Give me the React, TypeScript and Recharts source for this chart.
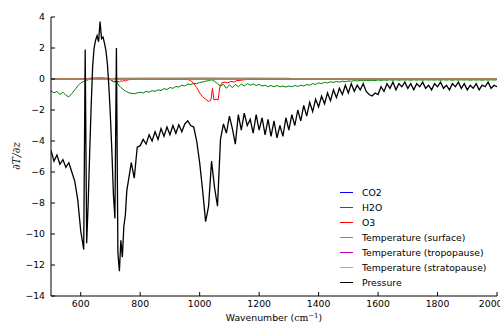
import { LineChart, Line, XAxis, YAxis, Legend } from 'recharts';

// shared wavenumber grid (cm^-1) for pressure and H2O, finer through the 600-760 band
const wavenumber = [
  500, 510, 520, 530, 540, 550, 560, 570, 580, 590,
  595, 600, 605, 610, 615, 620, 625, 630, 635, 640,
  645, 650, 655, 660, 665, 670, 675, 680, 685, 690,
  695, 700, 705, 710, 715, 720, 725, 730, 735, 740,
  745, 750, 755, 760,
  770, 780, 790,
  800, 810, 820, 830, 840, 850, 860, 870, 880, 890,
  900, 910, 920, 930, 940, 950, 960, 970, 980, 990,
  1000, 1010, 1020, 1030, 1040, 1050, 1060, 1070, 1080, 1090,
  1100, 1110, 1120, 1130, 1140, 1150, 1160, 1170, 1180, 1190,
  1200, 1210, 1220, 1230, 1240, 1250, 1260, 1270, 1280, 1290,
  1300, 1310, 1320, 1330, 1340, 1350, 1360, 1370, 1380, 1390,
  1400, 1410, 1420, 1430, 1440, 1450, 1460, 1470, 1480, 1490,
  1500, 1510, 1520, 1530, 1540, 1550, 1560, 1570, 1580, 1590,
  1600, 1610, 1620, 1630, 1640, 1650, 1660, 1670, 1680, 1690,
  1700, 1710, 1720, 1730, 1740, 1750, 1760, 1770, 1780, 1790,
  1800, 1810, 1820, 1830, 1840, 1850, 1860, 1870, 1880, 1890,
  1900, 1910, 1920, 1930, 1940, 1950, 1960, 1970, 1980, 1990,
  2000,
];

const pressure = [
  -4.6, -5.3, -4.9, -5.5, -5.2, -5.7, -5.4, -6.0, -6.6, -7.8,
  -8.8, -9.8, -10.4, -11.0, 1.9, -10.6, -8.0, -4.8, -1.8, 0.8,
  2.0, 2.5, 2.8, 2.4, 3.7, 2.6, 2.7, 2.3, 1.8, 0.9,
  -0.6, -2.5, -4.8, -7.5, -9.0, 2.0, -11.2, -12.4, -10.4, -11.5,
  -9.5, -8.8, -7.2, -6.6,
  -5.4, -6.4, -4.4,
  -4.3, -3.9, -4.2, -3.6, -4.0, -3.4, -3.9, -3.2, -3.7, -3.1,
  -3.6, -3.0, -3.5, -2.95, -3.4, -2.9, -2.7, -3.0, -3.1, -4.0,
  -5.4, -7.2, -9.2, -8.2, -5.3, -7.0, -8.2, -3.9, -2.9, -3.5,
  -2.4, -3.2, -4.2, -2.3, -3.3, -2.2, -3.0, -2.6, -3.5, -2.3,
  -3.3, -2.5, -3.6, -2.6, -3.7, -2.7, -3.8, -3.0, -3.7, -2.5,
  -3.3, -2.3, -3.0, -2.0, -2.7, -1.7, -2.4, -1.5, -2.1, -1.3,
  -1.8, -1.1, -1.6, -0.9, -1.4, -0.7, -1.2, -0.6, -1.0, -0.4,
  -0.9, -0.3, -0.8, -0.4, -0.7, -0.3, -0.8, -1.0, -1.1, -0.9,
  -1.0, -0.5, -0.8, -0.3, -0.6, -0.2, -0.7, -0.3, -0.5, -0.2,
  -0.6, -0.3, -0.7, -0.3, -0.5, -0.2, -0.6, -0.4, -0.7, -0.3,
  -0.5, -0.2, -0.6, -0.4, -0.7, -0.3, -0.5, -0.2, -0.6, -0.3,
  -0.7, -0.4, -0.6, -0.3, -0.7, -0.4, -0.5, -0.2, -0.6, -0.4,
  -0.5,
];

const h2o = [
  -0.75, -0.9, -0.8, -1.0, -0.85, -1.05, -1.15, -0.95, -0.7, -0.45,
  -0.35, -0.25, -0.2, -0.15, -0.1, -0.08, -0.05, -0.03, -0.02, -0.01,
  0, 0, 0, 0, 0, 0, 0, 0, 0, 0,
  0, -0.02, -0.1, -0.15, -0.2, -0.1, -0.3, -0.45, -0.55, -0.62,
  -0.7, -0.78, -0.82, -0.88,
  -0.92, -0.95, -0.9,
  -0.85, -0.9, -0.8, -0.85, -0.75, -0.8, -0.7, -0.75, -0.62, -0.68,
  -0.55, -0.6, -0.48, -0.52, -0.4, -0.45, -0.32, -0.36, -0.28, -0.3,
  -0.22, -0.2, -0.15, -0.1, -0.05, -0.15, -0.3, -0.45, -0.35, -0.6,
  -0.38, -0.55, -0.35, -0.5, -0.32, -0.45, -0.3, -0.4, -0.32, -0.42,
  -0.35, -0.45, -0.4, -0.5, -0.42, -0.5, -0.42, -0.5, -0.45, -0.52,
  -0.45, -0.5, -0.42, -0.48, -0.4, -0.45, -0.36, -0.4, -0.3, -0.35,
  -0.25, -0.3, -0.22, -0.25, -0.18, -0.22, -0.16, -0.2, -0.14, -0.18,
  -0.12, -0.15, -0.1, -0.13, -0.09, -0.12, -0.08, -0.11, -0.08, -0.1,
  -0.06, -0.09, -0.06, -0.08, -0.05, -0.08, -0.05, -0.08, -0.05, -0.07,
  -0.05, -0.08, -0.05, -0.07, -0.05, -0.08, -0.05, -0.07, -0.05, -0.07,
  -0.05, -0.08, -0.05, -0.07, -0.05, -0.08, -0.05, -0.07, -0.05, -0.07,
  -0.05, -0.08, -0.05, -0.07, -0.05, -0.08, -0.05, -0.07, -0.05, -0.07,
  -0.05,
];

const o3Wn = [
  500, 690, 700, 705, 710, 715, 720, 725, 730, 735,
  740, 745, 750, 755, 760, 770, 790, 960, 970, 980,
  990, 1000, 1010, 1020, 1030, 1038, 1043, 1048, 1055, 1062,
  1068, 1075, 1085, 1095, 1105, 1115, 1125, 1140, 1160, 2000,
];
const o3 = [
  0, 0, -0.05, -0.12, -0.18, -0.15, -0.2, -0.15, -0.18, -0.12,
  -0.15, -0.1, -0.12, -0.08, -0.05, -0.03, 0, -0.03, -0.1, -0.3,
  -0.55, -0.9, -1.15, -1.3, -1.45, -1.35, -0.6, -1.35, -1.3, -1.35,
  -0.5, -0.25, -0.2, -0.25, -0.15, -0.2, -0.1, -0.08, -0.02, 0,
];

const co2Wn = [500, 590, 610, 630, 650, 670, 690, 710, 730, 2000];
const co2 = [0, 0, 0.02, 0.04, 0.05, 0.06, 0.04, 0.02, 0, 0];

const surfaceWn = [500, 690, 720, 800, 900, 1000, 1100, 1200, 1300, 1330, 2000];
const surface = [0, 0, 0.05, 0.06, 0.06, 0.07, 0.06, 0.06, 0.05, 0, 0];

const tropoWn = [500, 610, 630, 660, 690, 710, 2000];
const tropo = [0, 0, 0.04, 0.06, 0.04, 0, 0];

const stratoWn = [500, 2000];
const strato = [0, 0];

const xTicks = [600, 800, 1000, 1200, 1400, 1600, 1800, 2000];
const yTicks = [-14, -12, -10, -8, -6, -4, -2, 0, 2, 4];

const toPoints = (xs: number[], ys: number[]) => xs.map((wn, i) => ({ wn, v: ys[i] }));

const series = [
  { name: 'CO2', color: '#0000ff', width: 1, data: toPoints(co2Wn, co2) },
  { name: 'H2O', color: '#008000', width: 1, data: toPoints(wavenumber, h2o) },
  { name: 'O3', color: '#ff0000', width: 1, data: toPoints(o3Wn, o3) },
  { name: 'Temperature (surface)', color: '#00bfbf', width: 1, data: toPoints(surfaceWn, surface) },
  { name: 'Temperature (tropopause)', color: '#bf00bf', width: 1, data: toPoints(tropoWn, tropo) },
  { name: 'Temperature (stratopause)', color: '#bfbf00', width: 1, data: toPoints(stratoWn, strato) },
  { name: 'Pressure', color: '#000000', width: 1.3, data: toPoints(wavenumber, pressure) },
];

const FONT = 'DejaVu Sans';
const tickStyle = { fontSize: 9.3, fill: '#000', fontFamily: FONT };
const minus = (v: number) => String(v).replace('-', '\u2212');

// keep plotting order in the legend (recharts sorts payload by name otherwise)
function LegendRows() {
  return (
    <div style={{ fontFamily: FONT, fontSize: 9.3, color: '#000' }}>
      {series.map((s) => (
        <div key={s.name} style={{ display: 'flex', alignItems: 'center', height: 15 }}>
          <span style={{ width: 13, borderTop: `1px solid ${s.color}`, marginRight: 9 }} />
          <span>{s.name}</span>
        </div>
      ))}
    </div>
  );
}

export default function App() {
  return (
    <div style={{ position: 'absolute', left: 0, top: 0, width: 500, height: 323, background: '#fff' }}>
      <LineChart width={500} height={323} margin={{ top: 17, right: 3, bottom: 0, left: 0 }}>
        <XAxis
          dataKey="wn"
          type="number"
          domain={[500, 2000]}
          ticks={xTicks}
          allowDataOverflow
          height={27}
          tickSize={-4}
          tickMargin={8.5}
          tick={tickStyle}
          stroke="#000"
        />
        <XAxis
          xAxisId="top"
          orientation="top"
          dataKey="wn"
          type="number"
          domain={[500, 2000]}
          ticks={xTicks}
          allowDataOverflow
          height={0}
          tickSize={-4}
          tick={false}
          stroke="#000"
        />
        <YAxis
          type="number"
          domain={[-14, 4]}
          ticks={yTicks}
          allowDataOverflow
          width={51}
          tickSize={-4}
          tickMargin={10}
          tick={tickStyle}
          tickFormatter={minus}
          stroke="#000"
        />
        <YAxis
          yAxisId="right"
          orientation="right"
          type="number"
          domain={[-14, 4]}
          ticks={yTicks}
          allowDataOverflow
          width={0}
          tickSize={-4}
          tick={false}
          stroke="#000"
        />
        {series.map((s) => (
          <Line
            key={s.name}
            data={s.data}
            dataKey="v"
            name={s.name}
            type="linear"
            stroke={s.color}
            strokeWidth={s.width}
            dot={false}
            legendType="plainline"
            isAnimationActive={false}
          />
        ))}
        <Legend
          layout="vertical"
          align="center"
          verticalAlign="middle"
          content={<LegendRows />}
          wrapperStyle={{ position: 'absolute', left: 340, top: 185, width: 160 }}
        />
      </LineChart>
      <svg width={500} height={323} style={{ position: 'absolute', left: 0, top: 0, pointerEvents: 'none' }}>
        <text
          x={20}
          y={156}
          transform="rotate(-90 20 156)"
          textAnchor="middle"
          fontFamily="DejaVu Serif"
          fontStyle="italic"
          fontSize={11}
          fill="#222"
        >
          ∂T/∂z
        </text>
        <text x={274} y={321} textAnchor="middle" fontFamily={FONT} fontSize={9.3} fill="#000">
          Wavenumber (
          <tspan fontFamily="DejaVu Serif">cm</tspan>
          <tspan fontFamily="DejaVu Serif" fontSize={7} dy={-3.5}>{'\u22121'}</tspan>
          <tspan dy={3.5}>)</tspan>
        </text>
      </svg>
    </div>
  );
}
